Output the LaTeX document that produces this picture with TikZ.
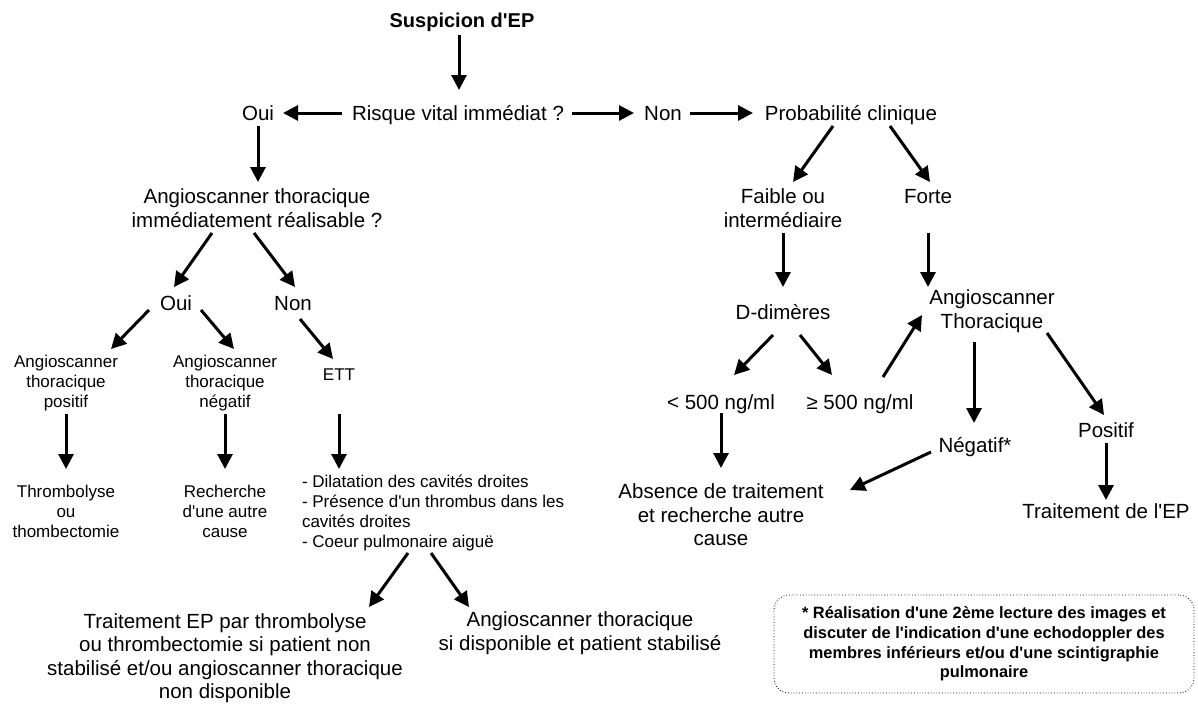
\documentclass[tikz,border=0pt]{standalone}
\usepackage{fontspec}
\setmainfont{Liberation Sans}[Ligatures=TeXOff]
\usetikzlibrary{arrows.meta}

\begin{document}
\begin{tikzpicture}[x=1pt,y=-1pt,
  every node/.style={inner sep=0pt, outer sep=0pt},
  big/.style={font=\fontsize{20.5}{23.5}\selectfont, align=center},
  one/.style={text height=14.8pt, text depth=0pt},
  small/.style={font=\fontsize{17}{20}\selectfont, align=center},
  smallone/.style={text height=12.2pt, text depth=0pt},
  arr/.style={line width=3pt, -{Triangle[length=15pt,width=15pt]}},
  notebox/.style={draw, dotted, rounded corners=15pt, line width=0.8pt,
    minimum width=420pt, minimum height=98pt,
    font=\bfseries\fontsize{16.4}{19.6}\selectfont, align=center}
]
\useasboundingbox (0,0) rectangle (1198,704);

% --- entry and first decision
\node[big,font=\bfseries\fontsize{20}{24}\selectfont,text height=14.4pt,text depth=0pt] (susp) at (462,20) {Suspicion d'EP};
\node[big,one] (risque) at (458,113) {Risque vital immédiat ?};
\node[big,one] (oui1) at (258,113) {Oui};
\node[big,one] (non1) at (663,113) {Non};
\node[big,one] (prob) at (851,113) {Probabilité clinique};

% --- unstable branch
\node[big] (angio1) at (257,208) {Angioscanner thoracique\\immédiatement réalisable ?};
\node[big,one] (oui2) at (176,303) {Oui};
\node[big,one] (non2) at (293,303) {Non};
\node[small] (pos) at (66,383) {Angioscanner\\thoracique\\positif};
\node[small] (neg) at (225,383) {Angioscanner\\thoracique\\négatif};
\node[small,smallone] (ett) at (339,374) {ETT};
\node[small] (thromb) at (66,511) {Thrombolyse\\ou\\thombectomie};
\node[small] (rech) at (225,511) {Recherche\\d'une autre\\cause};
\node[small,align=left,anchor=west] (list) at (302,513) {- Dilatation des cavités droites\\- Présence d'un thrombus dans les\\cavités droites\\- Coeur pulmonaire aiguë};
\node[big] (trait) at (225,658) {Traitement EP par thrombolyse\\ou thrombectomie si patient non\\stabilisé et/ou angioscanner thoracique\\non disponible};
\node[big] (angio2) at (580,633) {Angioscanner thoracique\\si disponible et patient stabilisé};

% --- stable branch
\node[big] (faible) at (783,208) {Faible ou\\intermédiaire};
\node[big,one] (forte) at (928,196) {Forte};
\node[big,one] (ddim) at (783,312) {D-dimères};
\node[big] (angio3) at (992,311) {Angioscanner\\Thoracique};
\node[big,one] (lt) at (721,402) {< 500 ng/ml};
\node[big,one] (ge) at (860,402) {≥ 500 ng/ml};
\node[big,one] (negatif) at (975,445) {Négatif*};
\node[big,one] (positif) at (1106,430) {Positif};
\node[big,one] (traitep) at (1106,511) {Traitement de l'EP};
\node[big] (absence) at (721,515) {Absence de traitement\\et recherche autre\\cause};

% --- footnote
\node[notebox] (note) at (984,644) {* Réalisation d'une 2ème lecture des images et\\discuter de l'indication d'une echodoppler des\\membres inférieurs et/ou d'une scintigraphie\\pulmonaire};

% --- connectors
\draw[arr] ([shift={(-3,15)}]susp.center) -- ([shift={(1,-23)}]risque.center);
\draw[arr] ([shift={(-116,0)}]risque.center) -- ([shift={(25,0)}]oui1.center);
\draw[arr] ([shift={(114,0)}]risque.center) -- ([shift={(-29,0)}]non1.center);
\draw[arr] ([shift={(27,0)}]non1.center) -- ([shift={(-98,0)}]prob.center);
\draw[arr] ([shift={(0,13)}]oui1.center) -- ([shift={(1,-26)}]angio1.center);
\draw[arr] ([shift={(-45,25)}]angio1.center) -- ([shift={(-2,-16)}]oui2.center);
\draw[arr] ([shift={(-3,25)}]angio1.center) -- ([shift={(2,-16)}]non2.center);
\draw[arr] ([shift={(-27,7)}]oui2.center) -- ([shift={(45,-34)}]pos.center);
\draw[arr] ([shift={(25,7)}]oui2.center) -- ([shift={(9,-34)}]neg.center);
\draw[arr] ([shift={(7,16)}]non2.center) -- ([shift={(-6,-15)}]ett.center);
\draw[arr] ([shift={(0,31)}]pos.center) -- ([shift={(0,-42)}]thromb.center);
\draw[arr] ([shift={(0,31)}]neg.center) -- ([shift={(0,-42)}]rech.center);
\draw[arr] ([shift={(0,40)}]ett.center) -- ([shift={(37,-44)}]list.west);
\draw[arr] ([shift={(106,40)}]list.west) -- ([shift={(144,-51)}]trait.center);
\draw[arr] ([shift={(129,40)}]list.west) -- ([shift={(-111,-26)}]angio2.center);
\draw[arr] ([shift={(-18,13)}]prob.center) -- ([shift={(10,-26)}]faible.center);
\draw[arr] ([shift={(39,13)}]prob.center) -- ([shift={(2,-14)}]forte.center);
\draw[arr] ([shift={(0,25)}]faible.center) -- ([shift={(0,-25)}]ddim.center);
\draw[arr] ([shift={(0,37)}]forte.center) -- ([shift={(-64,-24)}]angio3.center);
\draw[arr] ([shift={(-10,23)}]ddim.center) -- ([shift={(13,-27)}]lt.center);
\draw[arr] ([shift={(17,23)}]ddim.center) -- ([shift={(-28,-27)}]ge.center);
\draw[arr] ([shift={(23,-25)}]ge.center) -- ([shift={(-70,4)}]angio3.center);
\draw[arr] ([shift={(-18,31)}]angio3.center) -- ([shift={(-1,-22)}]negatif.center);
\draw[arr] ([shift={(55,22)}]angio3.center) -- ([shift={(-2,-15)}]positif.center);
\draw[arr] ([shift={(0,13)}]positif.center) -- ([shift={(0,-11)}]traitep.center);
\draw[arr] ([shift={(-44,7)}]negatif.center) -- ([shift={(129,-25)}]absence.center);
\draw[arr] ([shift={(0,11)}]lt.center) -- ([shift={(0,-47)}]absence.center);
\end{tikzpicture}
\end{document}
